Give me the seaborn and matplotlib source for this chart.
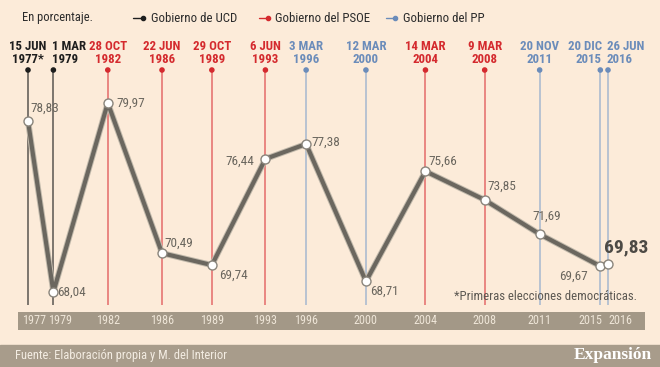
import matplotlib
matplotlib.use('Agg')
import matplotlib.pyplot as plt
import matplotlib.dates as mdates
import matplotlib.patheffects as pe
from matplotlib.lines import Line2D
from matplotlib.patches import Rectangle
from matplotlib.transforms import blended_transform_factory, offset_copy
import pandas as pd
import seaborn as sns

# datos: participación en elecciones generales
fechas = ['1977-06-15', '1979-03-01', '1982-10-28', '1986-06-22', '1989-10-29',
          '1993-06-06', '1996-03-03', '2000-03-12', '2004-03-14', '2008-03-09',
          '2011-11-20', '2015-12-20', '2016-06-26']
participacion = [78.83, 68.04, 79.97, 70.49, 69.74, 76.44, 77.38, 68.71,
                 75.66, 73.85, 71.69, 69.67, 69.83]
gobierno = ['UCD', 'UCD', 'PSOE', 'PSOE', 'PSOE', 'PSOE', 'PP', 'PP',
            'PSOE', 'PSOE', 'PP', 'PP', 'PP']
etiquetas_fecha = ['15 JUN\n1977*', '1 MAR\n1979', '28 OCT\n1982', '22 JUN\n1986',
                   '29 OCT\n1989', '6 JUN\n1993', '3 MAR\n1996', '12 MAR\n2000',
                   '14 MAR\n2004', '9 MAR\n2008', '20 NOV\n2011', '20 DIC\n2015',
                   '26 JUN\n2016']
anios = ['1977', '1979', '1982', '1986', '1989', '1993', '1996', '2000',
         '2004', '2008', '2011', '2015', '2016']

df = pd.DataFrame({'fecha': pd.to_datetime(fechas), 'participacion': participacion,
                   'gobierno': gobierno})

BG = '#fcebd9'
BAND = '#a39887'
FOOT = '#a89c8b'
col_text = {'UCD': '#1e1e1e', 'PSOE': '#d42a2e', 'PP': '#6b8cba'}
col_line = {'UCD': '#5a5650', 'PSOE': '#e46a6a', 'PP': '#a5b7cf'}

sns.set_theme(style='white')
plt.rcParams['font.family'] = ['Roboto Condensed', 'DejaVu Sans']

W, H = 660, 367
fig = plt.figure(figsize=(6.6, 3.67), dpi=100)
fig.patch.set_facecolor(BG)

def fx(px):
    return px / W

def fy(py):
    return 1 - py / H

ax = fig.add_axes([fx(18), fy(305), fx(627), 235 / H])
ax.set_facecolor(BG)

d = mdates.date2num(df['fecha'])
s = (d[-1] - d[0]) / 580
ax.set_xlim(d[0] - 10 * s, d[-1] + 37 * s)
ax.set_ylim(67.22, 82.05)
ymin, ymax = ax.get_ylim()

# lineas verticales por gobierno
ax.vlines(df['fecha'], ymin, ymax, colors=[col_line[g] for g in gobierno], lw=1.1, zorder=1)
ax.scatter(df['fecha'], [ymax] * len(df), s=9, c=[col_text[g] for g in gobierno],
           clip_on=False, zorder=3)

sns.lineplot(x='fecha', y='participacion', data=df, ax=ax, color='#6b675f', lw=3.0,
             zorder=4, path_effects=[pe.Stroke(linewidth=4.4, foreground='#c2baac'), pe.Normal()])
sns.scatterplot(x='fecha', y='participacion', data=df, ax=ax, s=42, color='white',
                edgecolor='#8a857c', linewidth=1.0, zorder=5, clip_on=False, legend=False)
ax.set_xlim(d[0] - 10 * s, d[-1] + 37 * s)
ax.set_ylim(ymin, ymax)
ax.axis('off')

# etiquetas de fecha
alin = ['center', 'left', 'center', 'center', 'center', 'center', 'center', 'center',
        'center', 'center', 'center', 'right', 'left']
for f, lbl, g, ha in zip(df['fecha'], etiquetas_fecha, gobierno, alin):
    dx = {'left': -1, 'right': 1, 'center': 0}[ha]
    ax.annotate(lbl, xy=(f, 1), xycoords=('data', 'axes fraction'), xytext=(dx, 3),
                textcoords='offset points', ha=ha, va='bottom', fontsize=9.3,
                fontweight='bold', color=col_text[g], linespacing=0.95, multialignment=ha)

# etiquetas de valor (desplazamiento en puntos)
offs = [(2, 9, 'left'), (3, 0, 'left'), (6, 0, 'left'), (2, 7, 'left'), (5, -7, 'left'),
        (-8, -2, 'right'), (4, 1, 'left'), (3, -7, 'left'), (2, 7, 'left'), (2, 10, 'left'),
        (-5, 13, 'left'), (-9, -7, 'right'), (-3, 12, 'left')]
for i, (f, v) in enumerate(zip(df['fecha'], participacion)):
    dx, dy, ha = offs[i]
    last = i == len(participacion) - 1
    ax.annotate(f'{v:.2f}'.replace('.', ','), xy=(f, v), xytext=(dx, dy),
                textcoords='offset points', ha=ha, va='center',
                fontsize=14 if last else 9.5, fontweight='bold' if last else 'normal',
                color='#4d4a45' if last else '#6a665e', zorder=6)

ax.text(1.0 - fx(8) / (627 / W), 0.035, '*Primeras elecciones democráticas.',
        transform=ax.transAxes, ha='right', va='center', fontsize=9.2, color='#5c5852')

# banda de años
bax = fig.add_axes([fx(18), fy(330), fx(627), 18 / H], sharex=ax)
bax.set_facecolor(BAND)
bax.tick_params(length=0, labelbottom=False, labelleft=False)
for sp in bax.spines.values():
    sp.set_visible(False)
tr = blended_transform_factory(bax.transData, bax.transAxes)
band_al = [('center', 6), ('center', 7), ('center', 0), ('center', 0), ('center', 0),
           ('center', 0), ('center', 0), ('center', 0), ('center', 0), ('center', 0),
           ('center', 0), ('right', 2), ('left', 0)]
for f, a, (ha, dx) in zip(df['fecha'], anios, band_al):
    bax.text(mdates.date2num(f), 0.5, a, ha=ha, va='center', fontsize=8.7, color='#efe6d8',
             transform=offset_copy(tr, fig=fig, x=dx, y=0, units='dots'))

# cabecera y leyenda
fig.text(fx(22), fy(18), 'En porcentaje.', ha='left', va='center', fontsize=9, color='#2b2b2b')
for x0, x1, xt, g, lbl in [(133, 143, 151, 'UCD', 'Gobierno de UCD'),
                           (259, 268, 275, 'PSOE', 'Gobierno del PSOE'),
                           (386, 395, 403, 'PP', 'Gobierno del PP')]:
    fig.add_artist(Line2D([fx(x0), fx(x1)], [fy(18), fy(18)], color=col_text[g], lw=1,
                          transform=fig.transFigure))
    fig.add_artist(Line2D([fx(x1)], [fy(18)], marker='o', ms=3, color=col_text[g],
                          transform=fig.transFigure))
    fig.text(fx(xt), fy(18), lbl, ha='left', va='center', fontsize=9.3, color='#2b2b2b')

# pie
fig.add_artist(Rectangle((0, 0), 1, 22 / H, transform=fig.transFigure, color=FOOT, zorder=0))
fig.text(fx(15), fy(356), 'Fuente: Elaboración propia y M. del Interior', ha='left',
         va='center', fontsize=9, color='#f3ece2')
fig.text(fx(652), fy(355), 'Expansión', ha='right', va='center', fontsize=12.5,
         fontweight='bold', family=['Liberation Serif', 'DejaVu Serif'], color='white')

fig.savefig('out.png', dpi=100, facecolor=BG)
